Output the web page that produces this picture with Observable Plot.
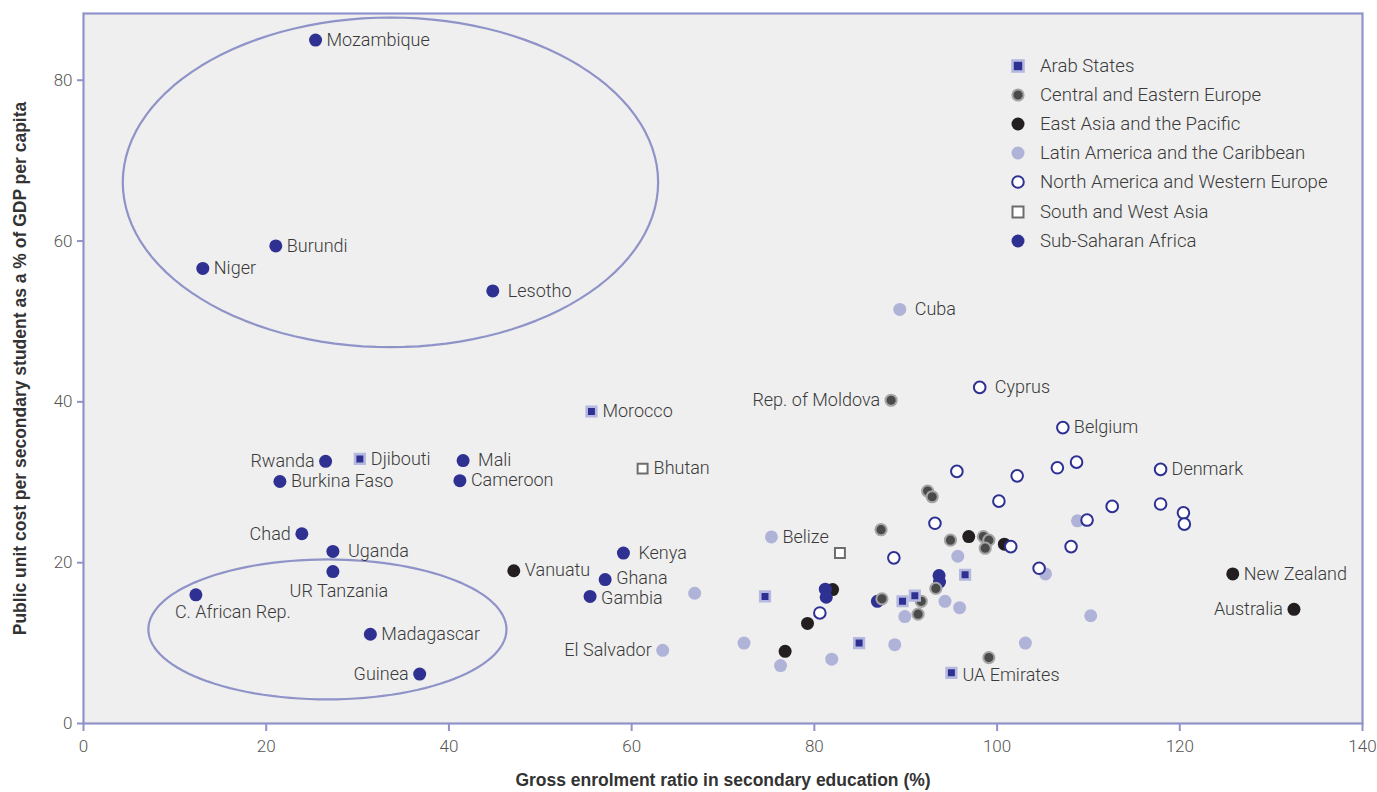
<!DOCTYPE html>
<html><head><meta charset="utf-8">
<script src="https://cdn.jsdelivr.net/npm/d3@7"></script>
<script src="https://cdn.jsdelivr.net/npm/@observablehq/plot@0.6"></script>
<style>
body{margin:0;background:#fff;}
#wrap{position:relative;width:1377px;height:792px;}
#legend{position:absolute;left:1008px;top:51px;font-family:Roboto,"Liberation Sans",sans-serif;font-weight:300;font-size:18.6px;color:#3a3a3a;}
.row{height:29.2px;display:flex;align-items:center;white-space:nowrap;}
.row svg{width:20px;height:20px;margin-right:12px;flex:none;}
</style></head><body><div id="wrap"><div id="legend"></div></div>
<script>
// [x = gross enrolment ratio, y = unit cost % of GDP per capita, label]
const arabStates = [[55.6,38.8,"Morocco"],[30.25,32.9,"Djibouti"],[74.6,15.8],[84.9,10.0],[89.65,15.2],[91.0,15.9],[96.5,18.5],[95.0,6.3,"UA Emirates"]];
const centralEasternEurope = [[88.4,40.2,"Rep. of Moldova"],[92.4,28.9],[92.9,28.2],[87.3,24.1],[94.9,22.8],[98.5,23.25],[99.1,22.8],[98.7,21.8],[87.4,15.5],[91.7,15.2],[91.35,13.6],[93.3,16.8],[99.1,8.2]];
const eastAsiaPacific = [[47.1,19.0,"Vanuatu"],[82.0,16.65],[79.25,12.45],[76.8,8.97],[96.9,23.25],[100.8,22.3],[125.8,18.6,"New Zealand"],[132.5,14.2,"Australia"]];
const latinAmerica = [[89.35,51.5,"Cuba"],[75.3,23.2,"Belize"],[63.4,9.1,"El Salvador"],[66.9,16.2],[72.3,10.0],[76.3,7.2],[81.9,8.0],[88.8,9.8],[89.9,13.3],[94.3,15.2],[95.9,14.4],[95.7,20.8],[103.1,10.0],[105.3,18.6],[108.8,25.2],[110.25,13.4]];
const northAmericaWesternEurope = [[98.1,41.8,"Cyprus"],[107.2,36.8,"Belgium"],[117.9,31.6,"Denmark"],[95.6,31.35],[102.2,30.8],[106.6,31.8],[108.7,32.5],[100.2,27.65],[93.2,24.9],[88.7,20.6],[101.5,22.0],[108.1,22.0],[104.6,19.3],[80.6,13.75],[109.85,25.3],[117.9,27.3],[120.4,26.2],[120.5,24.8],[112.6,27.0]];
const southWestAsia = [[61.2,31.7,"Bhutan"],[82.8,21.2]];
const subSaharanAfrica = [[25.4,85.0,"Mozambique"],[21.05,59.4,"Burundi"],[13.06,56.6,"Niger"],[44.8,53.8,"Lesotho"],[26.5,32.6,"Rwanda"],[41.55,32.7,"Mali"],[21.5,30.1,"Burkina Faso"],[41.2,30.2,"Cameroon"],[23.9,23.6,"Chad"],[27.3,21.4,"Uganda"],[27.3,18.9,"UR Tanzania"],[12.3,16.0,"C. African Rep."],[31.4,11.1,"Madagascar"],[36.8,6.15,"Guinea"],[59.1,21.2,"Kenya"],[57.1,17.9,"Ghana"],[55.45,15.8,"Gambia"],[81.2,16.7],[81.3,15.7],[86.9,15.2],[93.65,18.4],[93.7,17.6]];

const regionNames = ["Arab States","Central and Eastern Europe","East Asia and the Pacific","Latin America and the Caribbean","North America and Western Europe","South and West Asia","Sub-Saharan Africa"];
const xTicks = [0,20,40,60,80,100,120,140];
const yTicks = [0,20,40,60,80];
const xTitle = "Gross enrolment ratio in secondary education (%)";
const yTitle = "Public unit cost per secondary student as a % of GDP per capita";
// highlighted groups: [centre x, centre y, radius x, radius y] in data units
const ellipses = [[33.6,67.3,29.3,20.5],[26.7,11.7,19.6,8.7]];
// where each country label sits relative to its marker
const labelSide = {"Mozambique":"r","Burundi":"r","Niger":"r","Lesotho":"R","Rwanda":"l","Djibouti":"r","Mali":"R","Burkina Faso":"r","Cameroon":"r","Chad":"l","Uganda":"R","UR Tanzania":"below","C. African Rep.":"belowRight","Madagascar":"r","Guinea":"l","Kenya":"R","Ghana":"rUp","Gambia":"rDown","Vanuatu":"r","Morocco":"r","Bhutan":"r","Belize":"r","El Salvador":"l","Cuba":"R","Rep. of Moldova":"l","Cyprus":"R","Belgium":"r","Denmark":"r","New Zealand":"r","Australia":"l","UA Emirates":"rDown"};

const toRows = a => a.map(([x,y,name]) => ({x,y,name}));
const all = [arabStates,centralEasternEurope,eastAsiaPacific,latinAmerica,northAmericaWesternEurope,southWestAsia,subSaharanAfrica].flatMap(toRows);
const labelled = all.filter(d => d.name);
const side = s => labelled.filter(d => labelSide[d.name] === s);

const ellipsePts = ellipses.flatMap(([cx,cy,rx,ry],k) => d3.range(0,121).map(i => {
  const t = i/120*2*Math.PI; return {k, x: cx + rx*Math.cos(t), y: cy + ry*Math.sin(t)};
}));

const LAV = "#8f93c8", BLUE = "#2e3192";
const textOpts = {x:"x", y:"y", text:"name", fontSize:18, fontWeight:300, fill:"#3a3a3a"};
const titleOpts = {text:d=>d, textAnchor:"middle", fontSize:17.5, fontWeight:"bold", fill:"#333", fontFamily:"'Liberation Sans', Arial, sans-serif"};

const chart = Plot.plot({
  width: 1377, height: 792,
  marginLeft: 83, marginRight: 15, marginTop: 13, marginBottom: 69,
  x: {domain:[0,140]}, y: {domain:[0,88.3]},
  style: {fontFamily: "Roboto, 'Liberation Sans', sans-serif", background: "transparent", overflow:"visible"},
  marks: [
    Plot.frame({fill:"#efefef", stroke:"none"}),
    Plot.line(ellipsePts, {x:"x", y:"y", z:"k", stroke: LAV, strokeWidth: 2.2}),
    Plot.dot(toRows(latinAmerica), {x:"x", y:"y", r:6.5, fill:"#b0b3d8"}),
    Plot.dot(toRows(eastAsiaPacific), {x:"x", y:"y", r:6.5, fill:"#231f20"}),
    Plot.dot(toRows(subSaharanAfrica), {x:"x", y:"y", r:6.5, fill:BLUE}),
    Plot.dot(toRows(centralEasternEurope), {x:"x", y:"y", r:5.6, fill:"#4a4a4a", stroke:"#a5a5a5", strokeWidth:2}),
    Plot.dot(toRows(arabStates), {x:"x", y:"y", r:5.4, symbol:"square", fill:BLUE, stroke:"#b5b8df", strokeWidth:2.6}),
    Plot.dot(toRows(southWestAsia), {x:"x", y:"y", r:5.6, symbol:"square", fill:"#fff", stroke:"#6d6d6d", strokeWidth:2}),
    Plot.dot(toRows(northAmericaWesternEurope), {x:"x", y:"y", r:5.8, fill:"#fff", stroke:BLUE, strokeWidth:2}),
    Plot.text(side("r"), {...textOpts, textAnchor:"start", dx:11}),
    Plot.text(side("rUp"), {...textOpts, textAnchor:"start", dx:11, dy:-1.5}),
    Plot.text(side("rDown"), {...textOpts, textAnchor:"start", dx:11, dy:2}),
    Plot.text(side("R"), {...textOpts, textAnchor:"start", dx:15}),
    Plot.text(side("l"), {...textOpts, textAnchor:"end", dx:-11}),
    Plot.text(side("below"), {...textOpts, textAnchor:"middle", dx:6, dy:20}),
    Plot.text(side("belowRight"), {...textOpts, textAnchor:"middle", dx:37, dy:17}),
    Plot.axisX({ticks:xTicks, tickSize:8, tickPadding:8, stroke:LAV, strokeWidth:2, fill:"#555", fontSize:17, fontWeight:300, label:null}),
    Plot.axisY({ticks:yTicks, tickSize:6, tickPadding:5, stroke:LAV, strokeWidth:2, fill:"#555", fontSize:17, fontWeight:300, label:null}),
    Plot.text([xTitle], {...titleOpts, frameAnchor:"bottom", dy:62}),
    Plot.text([yTitle], {...titleOpts, frameAnchor:"left", dx:-63, rotate:-90, fontSize:17.5}),
    Plot.frame({stroke: LAV, strokeWidth: 2.2})
  ]
});
document.getElementById("wrap").prepend(chart);

const symbols = [
  '<rect x="4.5" y="4.5" width="11" height="11" fill="#2e3192" stroke="#b5b8df" stroke-width="2.6"/>',
  '<circle cx="10" cy="10" r="5.6" fill="#4a4a4a" stroke="#a5a5a5" stroke-width="2"/>',
  '<circle cx="10" cy="10" r="6.5" fill="#231f20"/>',
  '<circle cx="10" cy="10" r="6.5" fill="#b0b3d8"/>',
  '<circle cx="10" cy="10" r="5.8" fill="#fff" stroke="#2e3192" stroke-width="2"/>',
  '<rect x="4.5" y="4.5" width="11" height="11" fill="#fff" stroke="#6d6d6d" stroke-width="2"/>',
  '<circle cx="10" cy="10" r="6.5" fill="#2e3192"/>'
];
document.getElementById("legend").innerHTML = regionNames.map((n,i) =>
  `<div class="row"><svg viewBox="0 0 20 20">${symbols[i]}</svg><span>${n}</span></div>`).join("");
</script></body></html>
